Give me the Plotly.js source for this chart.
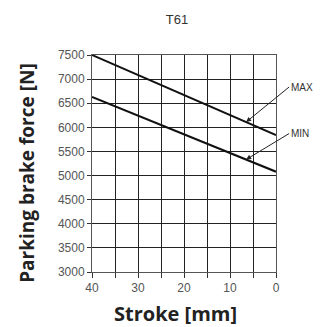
<!DOCTYPE html>
<html>
<head>
<meta charset="utf-8">
<script src="https://cdn.plot.ly/plotly-3.0.1.min.js"></script>
<style>html,body{margin:0;padding:0;background:#fff;}</style>
</head>
<body>
<div id="chart" style="width:326px;height:327px;"></div>
<script>
const stroke = [40, 0];
const maxForce = [7500, 5840];
const minForce = [6630, 5080];
const xTickVals = [40, 35, 30, 25, 20, 15, 10, 5, 0];
const xTickText = ['40', '', '30', '', '20', '', '10', '', '0'];
const yTickVals = [3000, 3500, 4000, 4500, 5000, 5500, 6000, 6500, 7000, 7500];
const labels = ['MAX', 'MIN'];
const arrowX = [6.5, 6.5];
const arrowAy = [-35, -26];

function interp(arr, x) {
  return arr[0] + (arr[1] - arr[0]) * (stroke[0] - x) / (stroke[0] - stroke[1]);
}

const traces = [
  {x: stroke, y: maxForce, mode: 'lines', line: {color: '#111', width: 2}, hoverinfo: 'skip'},
  {x: stroke, y: minForce, mode: 'lines', line: {color: '#111', width: 2}, hoverinfo: 'skip'}
];

const series = [maxForce, minForce];
const annotations = labels.map((t, i) => ({
  x: arrowX[i], y: interp(series[i], arrowX[i]), xref: 'x', yref: 'y',
  text: t, showarrow: true, arrowhead: 2, arrowsize: 1, arrowwidth: 1, arrowcolor: '#222',
  ax: 43, ay: arrowAy[i], xanchor: 'left', yanchor: 'middle',
  font: {family: 'Liberation Sans, Arial, sans-serif', size: 10, color: '#333'}
}));
annotations.push({
  text: 'Parking brake force [N]', xref: 'paper', yref: 'paper', showarrow: false,
  x: -0.35, y: 0.455, xanchor: 'center', yanchor: 'middle', textangle: -90,
  font: {family: 'Open Sans, sans-serif', size: 19, color: '#222', weight: 'bold'}
});
annotations.push({
  text: 'Stroke [mm]', xref: 'paper', yref: 'paper', showarrow: false,
  x: 0.453, y: -0.19, xanchor: 'center', yanchor: 'middle', borderpad: 0,
  font: {family: 'Open Sans, sans-serif', size: 20, color: '#222', weight: 'bold'}
});

const layout = {
  width: 326, height: 327,
  margin: {l: 92, r: 50, t: 55, b: 55},
  paper_bgcolor: '#fff', plot_bgcolor: '#fff',
  showlegend: false,
  title: {text: 'T61', x: 0.543, xanchor: 'center', y: 0.942, yanchor: 'middle',
    font: {family: 'Liberation Sans, Arial, sans-serif', size: 13, color: '#333'}},
  xaxis: {
    range: [40, 0], tickvals: xTickVals, ticktext: xTickText,
    showgrid: true, gridcolor: '#222', gridwidth: 1,
    zeroline: false, showline: true, linecolor: '#555', linewidth: 1, mirror: true,
    ticks: 'outside', ticklen: 5, tickcolor: '#333',
    tickfont: {family: 'Liberation Sans, Arial, sans-serif', size: 12, color: '#555'}
  },
  yaxis: {
    range: [3000, 7500], tickvals: yTickVals,
    showgrid: true, gridcolor: '#222', gridwidth: 1,
    zeroline: false, showline: true, linecolor: '#555', linewidth: 1, mirror: true,
    ticks: 'outside', ticklen: 4, tickcolor: '#333',
    tickfont: {family: 'Liberation Sans, Arial, sans-serif', size: 12, color: '#555'}
  },
  annotations: annotations
};

Plotly.newPlot('chart', traces, layout, {displayModeBar: false, staticPlot: true});
</script>
</body>
</html>
